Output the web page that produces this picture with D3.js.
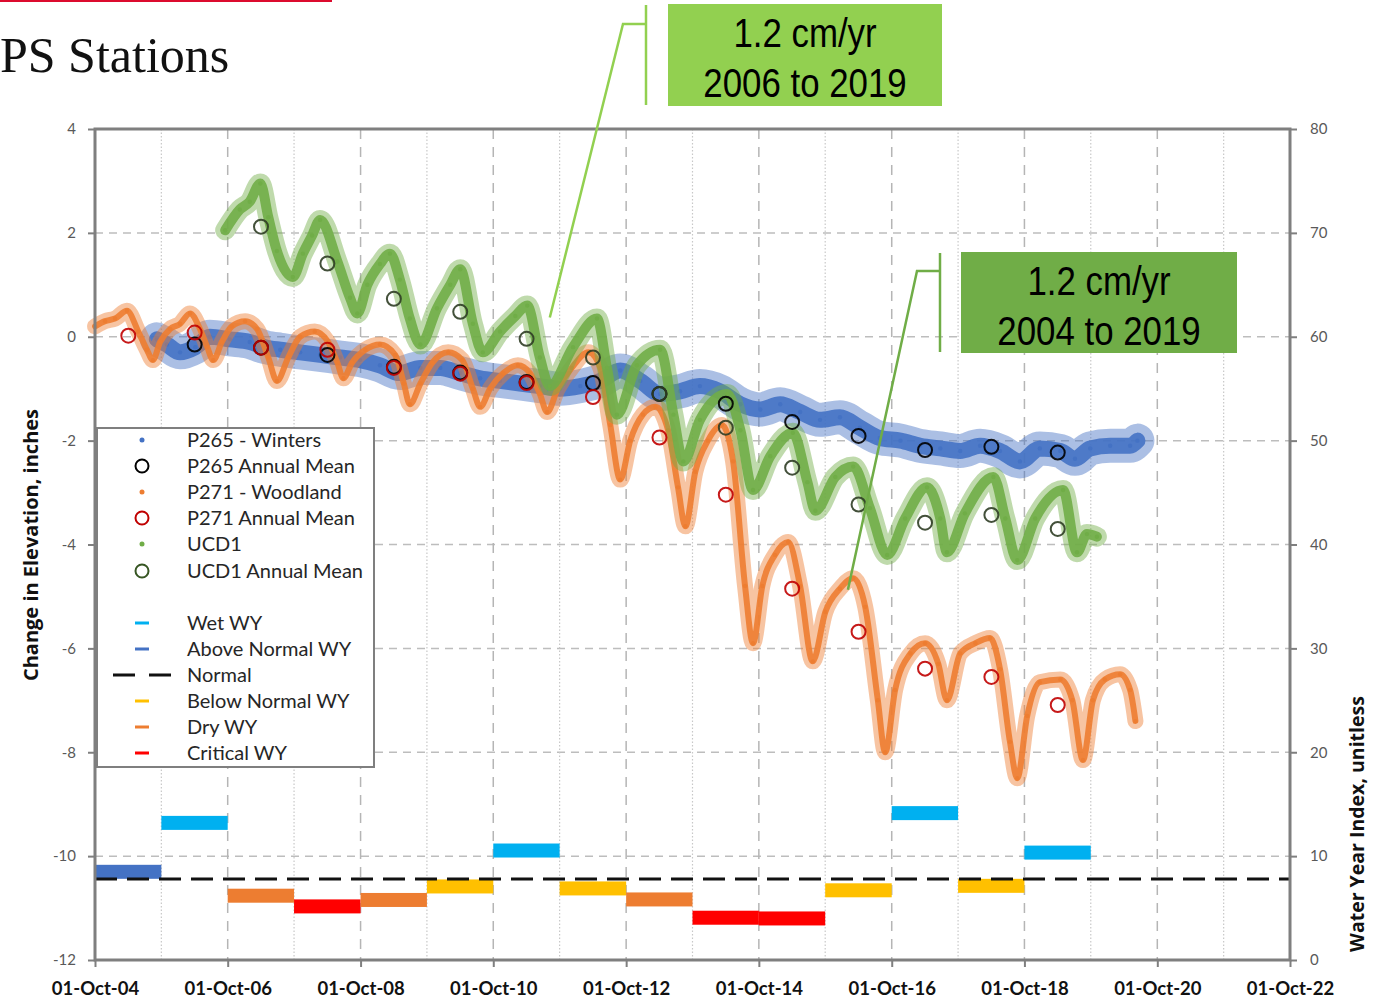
<!DOCTYPE html>
<html>
<head>
<meta charset="utf-8">
<script src="https://cdn.jsdelivr.net/npm/d3@7"></script>
<style>
body { margin: 0; background: #fff; }
svg text { font-family: Lato, "Open Sans", sans-serif; }
</style>
</head>
<body>
<svg id="chart" width="1379" height="1001"></svg>
<script>
// values: [decimal year, change in elevation (inches)]
var p265 = [[2005.68,-0.05],[2005.83,-0.15],[2006.03,-0.3],[2006.26,-0.2],[2006.48,0.0],[2006.78,-0.05],
  [2007.08,-0.1],[2007.31,-0.2],[2007.54,-0.25],[2007.84,-0.3],[2008.14,-0.35],[2008.44,-0.4],[2008.74,-0.45],
  [2009.04,-0.55],[2009.34,-0.7],[2009.65,-0.6],[2009.95,-0.6],[2010.25,-0.7],[2010.55,-0.8],[2010.85,-0.85],
  [2011.15,-0.9],[2011.45,-0.95],[2011.75,-1.0],[2012.06,-0.95],[2012.36,-0.85],[2012.66,-0.65],[2012.96,-0.85],
  [2013.26,-1.1],[2013.56,-1.05],[2013.86,-0.95],[2014.16,-1.05],[2014.47,-1.3],[2014.77,-1.4],[2015.07,-1.3],
  [2015.37,-1.45],[2015.67,-1.6],[2015.97,-1.55],[2016.27,-1.75],[2016.57,-1.95],[2016.88,-2.0],[2017.18,-2.1],
  [2017.48,-2.15],[2017.78,-2.2],[2018.08,-2.1],[2018.38,-2.2],[2018.68,-2.4],[2018.98,-2.15],[2019.29,-2.2],
  [2019.51,-2.35],[2019.74,-2.15],[2020.04,-2.1],[2020.34,-2.1],[2020.45,-2.0]];

var p271 = [[2004.75,0.2],[2004.90,0.3],[2005.05,0.35],[2005.23,0.5],[2005.40,0.1],[2005.53,-0.25],[2005.62,-0.45],
  [2005.73,-0.1],[2005.88,0.15],[2006.03,0.25],[2006.18,0.45],[2006.33,0.15],[2006.44,-0.2],[2006.53,-0.45],
  [2006.66,-0.1],[2006.81,0.2],[2007.01,0.3],[2007.19,0.15],[2007.36,-0.4],[2007.49,-0.85],[2007.66,-0.4],
  [2007.84,0.0],[2008.06,0.1],[2008.26,-0.1],[2008.40,-0.5],[2008.49,-0.8],[2008.62,-0.5],[2008.82,-0.25],
  [2009.04,-0.15],[2009.27,-0.35],[2009.40,-0.9],[2009.49,-1.3],[2009.65,-0.9],[2009.83,-0.5],[2010.07,-0.3],
  [2010.28,-0.45],[2010.44,-1.0],[2010.55,-1.35],[2010.70,-1.0],[2010.90,-0.7],[2011.12,-0.55],[2011.30,-0.7],
  [2011.45,-1.1],[2011.56,-1.45],[2011.72,-1.0],[2011.93,-0.6],[2012.18,-0.3],[2012.36,-0.6],[2012.51,-1.7],
  [2012.66,-2.75],[2012.81,-2.0],[2013.00,-1.5],[2013.19,-1.35],[2013.38,-1.8],[2013.53,-2.9],[2013.64,-3.65],
  [2013.79,-2.6],[2013.98,-2.0],[2014.19,-1.7],[2014.36,-2.4],[2014.54,-4.8],[2014.66,-5.9],[2014.80,-4.8],
  [2014.99,-4.2],[2015.19,-3.95],[2015.37,-4.8],[2015.56,-6.25],[2015.75,-5.3],[2015.97,-4.85],[2016.17,-4.65],
  [2016.35,-5.2],[2016.54,-7.0],[2016.65,-8.0],[2016.80,-6.8],[2017.03,-6.1],[2017.25,-5.9],[2017.45,-6.3],
  [2017.58,-7.0],[2017.78,-6.1],[2018.01,-5.9],[2018.23,-5.8],[2018.38,-6.4],[2018.53,-7.8],[2018.64,-8.5],
  [2018.79,-7.3],[2018.98,-6.65],[2019.29,-6.6],[2019.47,-7.0],[2019.63,-8.15],[2019.78,-7.0],[2019.96,-6.6],
  [2020.19,-6.5],[2020.34,-6.8],[2020.42,-7.4]];

var ucd1 = [[2006.71,2.05],[2006.93,2.45],[2007.08,2.6],[2007.24,2.95],[2007.36,2.3],[2007.49,1.65],[2007.73,1.15],
  [2007.88,1.6],[2008.02,1.95],[2008.14,2.25],[2008.40,1.45],[2008.59,0.75],[2008.70,0.45],[2008.85,1.0],
  [2009.04,1.4],[2009.19,1.6],[2009.34,1.1],[2009.49,0.35],[2009.65,-0.15],[2009.90,0.55],[2010.10,1.0],
  [2010.25,1.3],[2010.44,0.25],[2010.59,-0.3],[2010.85,0.1],[2011.08,0.4],[2011.26,0.6],[2011.45,-0.4],
  [2011.60,-0.95],[2011.95,-0.2],[2012.31,0.35],[2012.46,-0.6],[2012.61,-1.5],[2012.91,-0.55],[2013.26,-0.25],
  [2013.46,-1.5],[2013.61,-2.4],[2013.86,-1.6],[2014.27,-1.1],[2014.47,-1.8],[2014.66,-2.95],[2014.92,-2.3],
  [2015.26,-1.85],[2015.48,-2.8],[2015.60,-3.35],[2015.90,-2.7],[2016.17,-2.5],[2016.42,-3.3],[2016.68,-4.2],
  [2016.95,-3.5],[2017.28,-2.9],[2017.48,-3.5],[2017.58,-4.15],[2017.85,-3.4],[2018.28,-2.7],[2018.46,-3.5],
  [2018.64,-4.3],[2018.91,-3.5],[2019.33,-2.95],[2019.54,-4.15],[2019.69,-3.8],[2019.84,-3.85]];

// annual means
var p265Mean = [[2006.25,-0.15],[2007.25,-0.21],[2008.25,-0.35],[2009.25,-0.58],[2010.25,-0.69],[2011.25,-0.87],
  [2012.25,-0.89],[2013.25,-1.10],[2014.25,-1.29],[2015.25,-1.64],[2016.25,-1.91],[2017.25,-2.18],[2018.25,-2.12],[2019.25,-2.23]];
var p271Mean = [[2005.25,0.02],[2006.25,0.08],[2007.25,-0.21],[2008.25,-0.25],[2009.25,-0.60],[2010.25,-0.71],
  [2011.25,-0.89],[2012.25,-1.16],[2013.25,-1.94],[2014.25,-3.04],[2015.25,-4.85],[2016.25,-5.68],[2017.25,-6.39],
  [2018.25,-6.55],[2019.25,-7.09]];
var ucd1Mean = [[2007.25,2.12],[2008.25,1.41],[2009.25,0.73],[2010.25,0.48],[2011.25,-0.04],[2012.25,-0.40],
  [2013.25,-1.10],[2014.25,-1.75],[2015.25,-2.52],[2016.25,-3.23],[2017.25,-3.58],[2018.25,-3.43],[2019.25,-3.70]];

// water year index (right axis): water years 2005..2019
var wyYears = [2005, 2006, 2007, 2008, 2009, 2010, 2011, 2012, 2013, 2014, 2015, 2016, 2017, 2018, 2019];
var wyIndex = [8.49, 13.20, 6.19, 5.16, 5.78, 7.08, 10.54, 6.89, 5.83, 4.07, 4.00, 6.71, 14.14, 7.14, 10.34];
var wyClass = ["AN", "W", "D", "C", "D", "BN", "W", "BN", "D", "C", "C", "BN", "W", "BN", "W"];
var normalIndex = 7.8;

var yTicksLeft = d3.range(-12, 5, 2);
var yTicksRight = d3.range(0, 81, 10);
var xTickYears = d3.range(2004, 2023, 2);

var wyColor = { W: "#00b0f0", AN: "#4472c4", BN: "#ffc000", D: "#ed7d31", C: "#ff0000" };

function decYear(v) {
    var y = Math.floor(v);
    var a = new Date(y, 0, 1), b = new Date(y + 1, 0, 1);
    return new Date(+a + (v - y) * (b - a));
}

var svg = d3.select("#chart");

var xDate = d3.scaleTime()
    .domain([new Date(2004, 9, 1), new Date(2022, 9, 1)])
    .range([95, 1290]);
var yLeft = d3.scaleLinear().domain([-12, 4]).range([960, 129]);
var yRight = d3.scaleLinear().domain([0, 80]).range([960, 129]);

// title bits (slide title is cropped at the left edge)
svg.append("rect").attr("x", 0).attr("y", 0).attr("width", 332).attr("height", 2).attr("fill", "#dc0b2e");
svg.append("text")
    .attr("x", 0).attr("y", 72)
    .style("font-family", "'Liberation Serif', 'DejaVu Serif', serif")
    .style("font-size", "50px")
    .attr("fill", "#111")
    .text("PS Stations");

// gridlines
var grid = svg.append("g").attr("class", "grid");
grid.selectAll("line.h")
    .data(d3.range(-10, 4, 2))
    .enter().append("line")
    .attr("x1", 95).attr("x2", 1290)
    .attr("y1", function(d) { return yLeft(d); })
    .attr("y2", function(d) { return yLeft(d); })
    .attr("stroke", "#bdbdbd").attr("stroke-width", 1.5)
    .attr("stroke-dasharray", "8,6");

grid.selectAll("line.v")
    .data(d3.range(2005, 2022))
    .enter().append("line")
    .attr("x1", function(d) { return xDate(new Date(d, 9, 1)); })
    .attr("x2", function(d) { return xDate(new Date(d, 9, 1)); })
    .attr("y1", 129).attr("y2", 960)
    .attr("stroke", function(d) { return d % 2 == 0 ? "#b5b5b5" : "#c8c8c8"; })
    .attr("stroke-width", function(d) { return d % 2 == 0 ? 1.5 : 1.2; })
    .attr("stroke-dasharray", function(d) { return d % 2 == 0 ? "10,8" : "1.5,2"; });

// scatter series drawn as noisy bands
var line = d3.line()
    .curve(d3.curveMonotoneX)
    .x(function(d) { return xDate(decYear(d[0])); })
    .y(function(d) { return yLeft(d[1]); });

function band(data, color, wide, core) {
    var g = svg.append("g");
    g.append("path").datum(data)
        .attr("d", line).attr("fill", "none")
        .attr("stroke", color).attr("stroke-width", wide)
        .attr("stroke-opacity", 0.45)
        .attr("stroke-linejoin", "round").attr("stroke-linecap", "round");
    g.append("path").datum(data)
        .attr("d", line).attr("fill", "none")
        .attr("stroke", color).attr("stroke-width", core)
        .attr("stroke-opacity", 0.9)
        .attr("stroke-linejoin", "round").attr("stroke-linecap", "round");
    g.selectAll("circle").data(data).enter().append("circle")
        .attr("cx", function(d) { return xDate(decYear(d[0])); })
        .attr("cy", function(d) { return yLeft(d[1]); })
        .attr("r", 2.2).attr("fill", color);
}

band(p265, "#4472c4", 34, 16);
band(p271, "#ed7d31", 16, 6);
band(ucd1, "#70ad47", 20, 10);

// annual mean circles
function means(data, color) {
    svg.append("g").selectAll("circle").data(data).enter().append("circle")
        .attr("cx", function(d) { return xDate(decYear(d[0])); })
        .attr("cy", function(d) { return yLeft(d[1]); })
        .attr("r", 7).attr("fill", "none")
        .attr("stroke", color).attr("stroke-width", 2)
        .attr("stroke-opacity", 0.9);
}
means(p265Mean, "#000000");
means(p271Mean, "#c00000");
means(ucd1Mean, "#2f3d25");

// water year bars
var wy = wyYears.map(function(y, i) { return { wy: y, idx: wyIndex[i], cls: wyClass[i] }; });
svg.append("g").selectAll("rect").data(wy).enter().append("rect")
    .attr("x", function(d) { return xDate(new Date(d.wy - 1, 9, 1)); })
    .attr("width", function(d) { return xDate(new Date(d.wy, 9, 1)) - xDate(new Date(d.wy - 1, 9, 1)); })
    .attr("y", function(d) { return yRight(d.idx) - 7; })
    .attr("height", 14)
    .attr("fill", function(d) { return wyColor[d.cls]; });

svg.append("line")
    .attr("x1", 95).attr("x2", 1290)
    .attr("y1", yRight(normalIndex)).attr("y2", yRight(normalIndex))
    .attr("stroke", "#111").attr("stroke-width", 3)
    .attr("stroke-dasharray", "22,10");

// frame
svg.append("rect")
    .attr("x", 95).attr("y", 129).attr("width", 1195).attr("height", 831)
    .attr("fill", "none").attr("stroke", "#7f7f7f").attr("stroke-width", 3);

// axes
var plain = function(d) { return String(d); };
var axL = svg.append("g").attr("transform", "translate(95,0)")
    .call(d3.axisLeft(yLeft).tickValues(yTicksLeft).tickFormat(plain).tickSize(7).tickPadding(12));
var axR = svg.append("g").attr("transform", "translate(1290,0)")
    .call(d3.axisRight(yRight).tickValues(yTicksRight).tickFormat(plain).tickSize(7).tickPadding(13));
var axB = svg.append("g").attr("transform", "translate(0,960)")
    .call(d3.axisBottom(xDate)
        .tickValues(xTickYears.map(function(y) { return new Date(y, 9, 1); }))
        .tickFormat(d3.timeFormat("%d-%b-%y"))
        .tickSize(7).tickPadding(15));

svg.selectAll("path.domain").remove();
svg.selectAll(".tick line").attr("stroke", "#7f7f7f").attr("stroke-width", 2);
[axL, axR].forEach(function(a) {
    a.selectAll("text").style("font-size", "15px").attr("fill", "#595959")
        .style("font-family", "Lato, sans-serif");
});
axB.selectAll("text").style("font-size", "18.5px").style("font-weight", "bold")
    .attr("fill", "#111").style("font-family", "Lato, sans-serif");

// axis titles
svg.append("text")
    .attr("transform", "translate(31,545) rotate(-90)")
    .attr("text-anchor", "middle").attr("dy", "0.35em")
    .style("font-family", "'Open Sans', sans-serif")
    .style("font-size", "20px").style("font-weight", "bold")
    .attr("fill", "#111")
    .text("Change in Elevation, inches");
svg.append("text")
    .attr("transform", "translate(1357,824) rotate(-90)")
    .attr("text-anchor", "middle").attr("dy", "0.35em")
    .style("font-family", "'Open Sans', sans-serif")
    .style("font-size", "19.5px").style("font-weight", "bold")
    .attr("fill", "#111")
    .text("Water Year Index, unitless");

// legend
var leg = svg.append("g");
leg.append("rect").attr("x", 97).attr("y", 428).attr("width", 277).attr("height", 339)
    .attr("fill", "#fff").attr("stroke", "#7f7f7f").attr("stroke-width", 2);

var legItems = [
    { label: "P265 - Winters", type: "dot", color: "#4472c4", y: 440 },
    { label: "P265 Annual Mean", type: "ring", color: "#000", y: 466 },
    { label: "P271 - Woodland", type: "dot", color: "#ed7d31", y: 492 },
    { label: "P271 Annual Mean", type: "ring", color: "#c00000", y: 518 },
    { label: "UCD1", type: "dot", color: "#70ad47", y: 544 },
    { label: "UCD1 Annual Mean", type: "ring", color: "#375623", y: 571 },
    { label: "Wet WY", type: "bar", color: wyColor.W, y: 623 },
    { label: "Above Normal WY", type: "bar", color: wyColor.AN, y: 649 },
    { label: "Normal", type: "dash", color: "#111", y: 675 },
    { label: "Below Normal WY", type: "bar", color: wyColor.BN, y: 701 },
    { label: "Dry WY", type: "bar", color: wyColor.D, y: 727 },
    { label: "Critical WY", type: "bar", color: wyColor.C, y: 753 }
];
legItems.forEach(function(d) {
    if (d.type == "dot") {
        leg.append("circle").attr("cx", 142).attr("cy", d.y).attr("r", 2.5).attr("fill", d.color);
    } else if (d.type == "ring") {
        leg.append("circle").attr("cx", 142).attr("cy", d.y).attr("r", 6.5)
            .attr("fill", "none").attr("stroke", d.color).attr("stroke-width", 2);
    } else if (d.type == "bar") {
        leg.append("line").attr("x1", 135).attr("x2", 149).attr("y1", d.y).attr("y2", d.y)
            .attr("stroke", d.color).attr("stroke-width", 3);
    } else {
        leg.append("line").attr("x1", 113).attr("x2", 171).attr("y1", d.y).attr("y2", d.y)
            .attr("stroke", d.color).attr("stroke-width", 3).attr("stroke-dasharray", "22,14");
    }
    leg.append("text").attr("x", 187).attr("y", d.y).attr("dy", "0.35em")
        .style("font-size", "20px").attr("fill", "#262626").text(d.label);
});

// annotation callouts
function callout(box, fill, lines, bracketX, elbow, tip) {
    var g = svg.append("g");
    g.append("polyline")
        .attr("points", [[bracketX, elbow[1]], elbow, [xDate(decYear(tip[0])), yLeft(tip[1])]].join(" "))
        .attr("fill", "none").attr("stroke", fill).attr("stroke-width", 2.5);
    g.append("line").attr("x1", bracketX).attr("x2", bracketX)
        .attr("y1", box.y + 1).attr("y2", box.y + box.h - 1)
        .attr("stroke", fill).attr("stroke-width", 2.5);
    g.append("rect").attr("x", box.x).attr("y", box.y).attr("width", box.w).attr("height", box.h)
        .attr("fill", fill);
    lines.forEach(function(t, i) {
        var cx = box.x + box.w / 2;
        g.append("text")
            .attr("transform", "translate(" + cx + "," + (box.y + 43 + i * 50) + ") scale(0.85,1)")
            .attr("text-anchor", "middle")
            .style("font-family", "'Liberation Sans', Arial, sans-serif")
            .style("font-size", "41px").attr("fill", "#000")
            .text(t);
    });
}
callout({ x: 668, y: 4, w: 274, h: 102 }, "#92d050", ["1.2 cm/yr", "2006 to 2019"], 646, [623, 24], [2011.60, 0.37]);
callout({ x: 961, y: 252, w: 276, h: 101 }, "#70ad47", ["1.2 cm/yr", "2004 to 2019"], 940, [917, 271], [2016.09, -4.87]);
</script>
</body>
</html>
